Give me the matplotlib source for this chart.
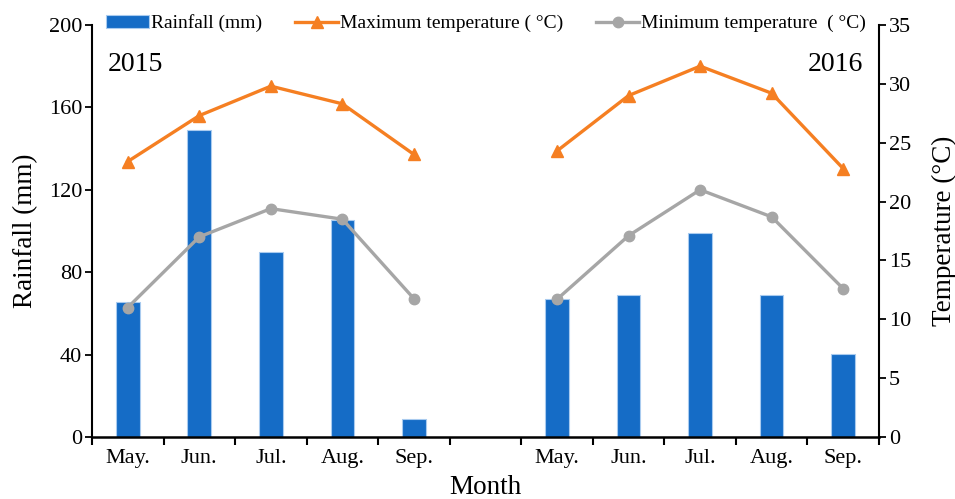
import numpy as np
import matplotlib
matplotlib.use("Agg")
import matplotlib.pyplot as plt
from matplotlib.ticker import FixedLocator

plt.rcParams['font.family'] = ['Liberation Serif', 'DejaVu Serif']
plt.rcParams['mathtext.fontset'] = 'stix'

months = ["May.", "Jun.", "Jul.", "Aug.", "Sep.", "", "May.", "Jun.", "Jul.", "Aug.", "Sep."]
rainfall = [65.5, 149.2, 90.0, 105.3, 8.6, np.nan, 66.8, 68.9, 98.9, 68.9, 40.1]
max_temp = [23.4, 27.3, 29.8, 28.3, 24.0, np.nan, 24.3, 29.0, 31.5, 29.2, 22.8]
min_temp = [11.0, 17.0, 19.4, 18.5, 11.75, np.nan, 11.7, 17.1, 21.0, 18.7, 12.6]
years = ["2015", "2016"]

bar_color = "#156CC6"
orange = "#F57F22"
gray = "#A6A6A6"

fig = plt.figure(figsize=(9.55, 4.99), dpi=100)
ax = fig.add_axes([0.0963, 0.1242, 0.9204 - 0.0963, 0.950 - 0.1242])
x = np.arange(len(months))

bars = ax.bar(x, rainfall, width=0.33, color=bar_color, edgecolor="#A9CBEF",
              linewidth=0.8, label="Rainfall (mm)", zorder=2)
ax.set_ylim(0, 200)
ax.set_xlim(-0.5, len(months) - 0.5)
ax.set_yticks([0, 40, 80, 120, 160, 200])
ax.set_ylabel("Rainfall (mm)", fontsize=19.5, labelpad=8)
ax.set_xlabel("Month", fontsize=19.5, labelpad=5.5)

ax.xaxis.set_major_locator(FixedLocator(np.arange(-0.5, len(months), 1.0)))
ax.xaxis.set_major_formatter(plt.NullFormatter())
ax.xaxis.set_minor_locator(FixedLocator(x))
ax.set_xticklabels(months, minor=True)
ax.tick_params(axis='x', which='minor', length=0, labelsize=16, pad=8.5)
ax.tick_params(axis='x', which='major', length=6, width=1.5, direction='out')
ax.tick_params(axis='y', length=5, width=1.3, direction='out', labelsize=16, pad=2)

for s in ['top', 'right']:
    ax.spines[s].set_visible(False)
ax.spines['left'].set_linewidth(1.5)
ax.spines['bottom'].set_linewidth(1.8)

ax2 = ax.twinx()
ax2.plot(x, max_temp, color=orange, lw=2.4, marker='^', ms=8.5,
         label="Maximum temperature ( °C)", zorder=3)
ax2.plot(x, min_temp, color=gray, lw=2.4, marker='o', ms=7.5,
         label="Minimum temperature  ( °C)", zorder=3)
ax2.set_ylim(0, 35)
ax2.set_yticks([0, 5, 10, 15, 20, 25, 30, 35])
ax2.set_ylabel("Temperature (°C)", fontsize=19.5, labelpad=15)
ax2.tick_params(axis='y', length=5, width=1.3, direction='out', labelsize=16, pad=2)
for s in ['top', 'left', 'bottom']:
    ax2.spines[s].set_visible(False)
ax2.spines['right'].set_linewidth(1.5)

ax.text(0.02, 0.935, years[0], transform=ax.transAxes, fontsize=20, ha='left', va='top')
ax.text(0.98, 0.935, years[1], transform=ax.transAxes, fontsize=20, ha='right', va='top')

h1, l1 = ax.get_legend_handles_labels()
h2, l2 = ax2.get_legend_handles_labels()
fig.legend(h1 + h2, l1 + l2, loc='center', bbox_to_anchor=(0.509, 0.953), ncol=3,
           frameon=False, fontsize=14, handlelength=2.2, handletextpad=0.1,
           columnspacing=1.7, handleheight=0.6)

fig.savefig("out.png", dpi=100)
